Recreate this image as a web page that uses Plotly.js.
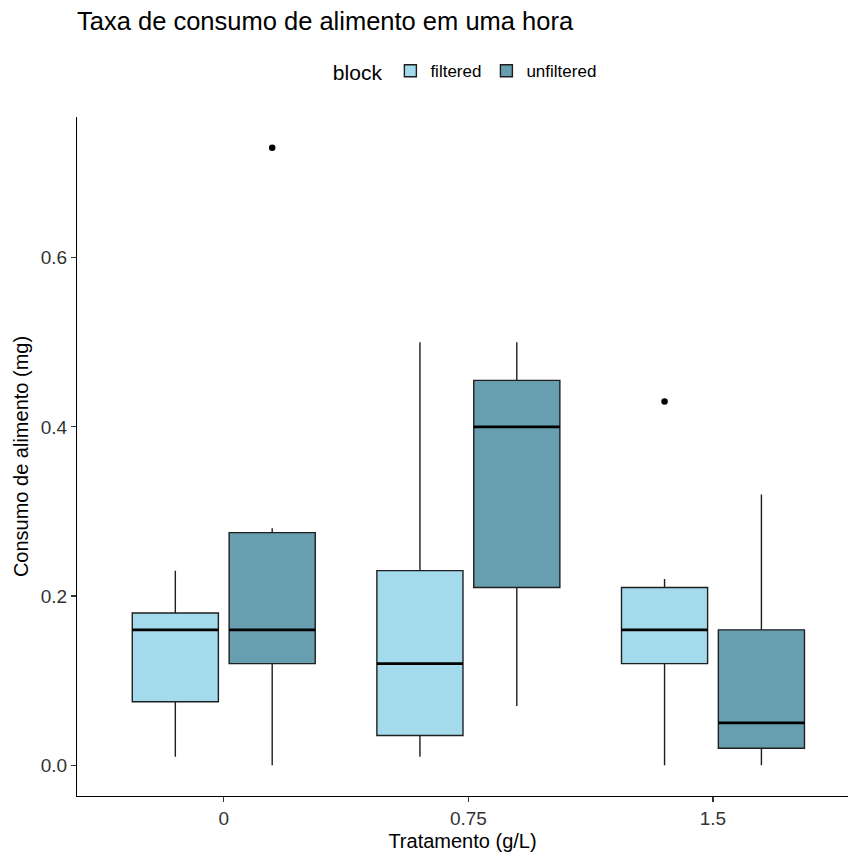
<!DOCTYPE html>
<html>
<head>
<meta charset="utf-8">
<script src="https://cdn.plot.ly/plotly-3.0.1.min.js"></script>
<style>html,body{margin:0;padding:0;background:#fff;}</style>
</head>
<body>
<div id="chart" style="width:848px;height:859px;"></div>
<script>
// Data
var categories = ["0", "0.75", "1.5"];
var groups = ["filtered", "unfiltered"];

var filteredLower  = [0.01, 0.01, 0.00];
var filteredQ1     = [0.075, 0.035, 0.12];
var filteredMedian = [0.16, 0.12, 0.16];
var filteredQ3     = [0.18, 0.23, 0.21];
var filteredUpper  = [0.23, 0.50, 0.22];

var unfilteredLower  = [0.00, 0.07, 0.00];
var unfilteredQ1     = [0.12, 0.21, 0.02];
var unfilteredMedian = [0.16, 0.40, 0.05];
var unfilteredQ3     = [0.275, 0.455, 0.16];
var unfilteredUpper  = [0.28, 0.50, 0.32];

var filteredOutlierX = ["1.5"];
var filteredOutlierY = [0.43];
var unfilteredOutlierX = ["0"];
var unfilteredOutlierY = [0.73];

var yTicks = [0, 0.2, 0.4, 0.6];

var colors = {filtered: "#a3dbed", unfiltered: "#679fb1"};
var lineCol = "#1f1f1f";
var fontFam = "'Liberation Sans', Arial, sans-serif";

function boxTrace(name, lo, q1, med, q3, up) {
  return {
    type: "box",
    name: name,
    x: categories,
    lowerfence: lo, q1: q1, median: med, q3: q3, upperfence: up,
    fillcolor: colors[name],
    line: {color: lineCol, width: 1.4},
    whiskerwidth: 0,
    boxpoints: false,
    offsetgroup: name,
    alignmentgroup: "a",
    hoverinfo: "y"
  };
}

// thick median bar (ggplot draws the median thicker): a zero-height box at the median
function medianTrace(name, med) {
  return {
    type: "box",
    name: name + " median",
    x: categories,
    lowerfence: med, q1: med, median: med, q3: med, upperfence: med,
    fillcolor: "rgba(0,0,0,0)",
    line: {color: "#000", width: 2.6},
    whiskerwidth: 0,
    boxpoints: false,
    offsetgroup: name,
    alignmentgroup: "a",
    showlegend: false,
    hoverinfo: "skip"
  };
}

function outlierTrace(name, xs, ys) {
  return {
    type: "scatter",
    mode: "markers",
    x: xs, y: ys,
    marker: {color: "#000", size: 6.5},
    offsetgroup: name,
    alignmentgroup: "a",
    showlegend: false,
    hoverinfo: "y"
  };
}

var data = [
  boxTrace("filtered", filteredLower, filteredQ1, filteredMedian, filteredQ3, filteredUpper),
  boxTrace("unfiltered", unfilteredLower, unfilteredQ1, unfilteredMedian, unfilteredQ3, unfilteredUpper),
  medianTrace("filtered", filteredMedian),
  medianTrace("unfiltered", unfilteredMedian),
  outlierTrace("filtered", filteredOutlierX, filteredOutlierY),
  outlierTrace("unfiltered", unfilteredOutlierX, unfilteredOutlierY)
];

var layout = {
  width: 848, height: 859,
  margin: {l: 77, r: 0, t: 117, b: 63, pad: 0},
  paper_bgcolor: "#fff", plot_bgcolor: "#fff",
  font: {family: fontFam, color: "#000"},
  title: {
    text: "Taxa de consumo de alimento em uma hora",
    font: {size: 25.5, color: "#000", family: fontFam},
    x: 0, xref: "paper", xanchor: "left",
    y: 1 - 21/859, yref: "container", yanchor: "middle"
  },
  boxmode: "group",
  boxgap: 0.208,
  boxgroupgap: 0.111,
  scattermode: "group",
  scattergap: 0.208,
  showlegend: true,
  legend: {
    orientation: "h",
    x: 0.505, xanchor: "center",
    y: 1.066, yanchor: "middle",
    title: {text: "block", side: "left", font: {size: 21, color: "#000"}},
    font: {size: 17, color: "#000"},
    itemwidth: 30,
    traceorder: "normal"
  },
  xaxis: {
    type: "category",
    categoryorder: "array",
    categoryarray: categories,
    range: [-0.6, 2.552],
    showline: true, linecolor: "#000", linewidth: 1.1,
    ticks: "outside", ticklen: 5, tickwidth: 1.1, tickcolor: "#333",
    tickfont: {size: 19, color: "#333"},
    showgrid: false, zeroline: false,
    title: {text: "Tratamento (g/L)", font: {size: 20, color: "#000"}, standoff: 6},
    automargin: false
  },
  yaxis: {
    range: [-0.0365, 0.7665],
    tickvals: yTicks,
    tickformat: ".1f",
    showline: true, linecolor: "#000", linewidth: 1.1,
    ticks: "outside", ticklen: 5, tickwidth: 1.1, tickcolor: "#333",
    tickfont: {size: 19, color: "#333"},
    showgrid: false, zeroline: false,
    title: {text: "Consumo de alimento (mg)", font: {size: 20, color: "#000"}, standoff: 6},
    automargin: false
  }
};

Plotly.newPlot("chart", data, layout, {displayModeBar: false, staticPlot: true});
</script>
</body>
</html>
